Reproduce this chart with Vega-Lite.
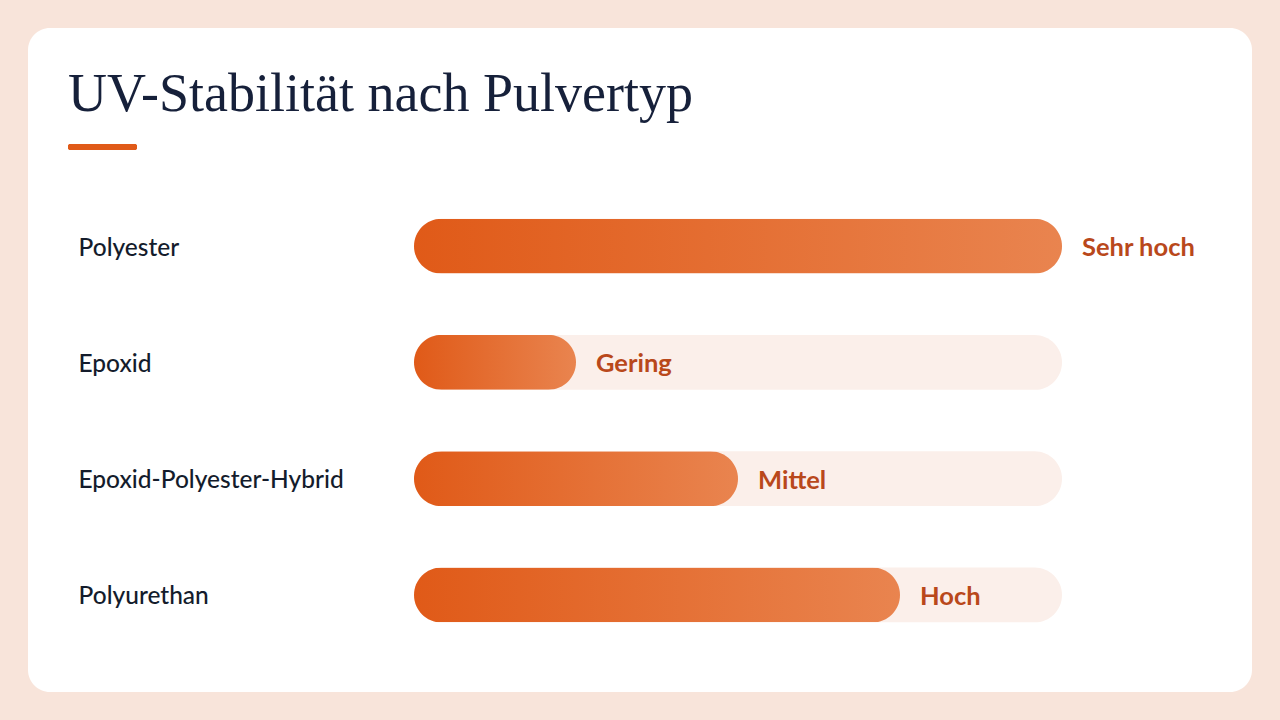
{
  "$schema": "https://vega.github.io/schema/vega-lite/v6.json",
  "width": 1224,
  "height": 664,
  "autosize": {"type": "none"},
  "padding": {"left": 28, "top": 28, "right": 28, "bottom": 28},
  "background": "#f8e4da",
  "title": {
    "text": "UV-Stabilität nach Pulvertyp",
    "anchor": "start",
    "frame": "group",
    "orient": "top",
    "offset": 0,
    "dx": 40,
    "dy": 137,
    "baseline": "alphabetic",
    "font": "Liberation Serif",
    "fontSize": 54,
    "fontWeight": "normal",
    "color": "#16203a"
  },
  "config": {
    "view": {"fill": "white", "stroke": null, "cornerRadius": 22}
  },
  "data": {
    "values": [
      {"typ": "Polyester", "stufe": 4, "bewertung": "Sehr hoch"},
      {"typ": "Epoxid", "stufe": 1, "bewertung": "Gering"},
      {"typ": "Epoxid-Polyester-Hybrid", "stufe": 2, "bewertung": "Mittel"},
      {"typ": "Polyurethan", "stufe": 3, "bewertung": "Hoch"}
    ]
  },
  "encoding": {
    "y": {
      "field": "typ",
      "type": "nominal",
      "sort": null,
      "scale": {"range": [160, 625], "paddingInner": 0.527, "paddingOuter": 0.2635},
      "axis": {
        "title": null,
        "domain": false,
        "ticks": false,
        "grid": false,
        "offset": -50,
        "labelPadding": 0,
        "labelAlign": "left",
        "labelFont": "Lato",
        "labelFontSize": 24.5,
        "labelFontWeight": 500,
        "labelColor": "#141c2c",
        "labelLimit": 400,
        "labelOffset": 2.5
      }
    }
  },
  "layer": [
    {
      "mark": {"type": "bar", "cornerRadius": 27.5, "color": "#fbefea"},
      "encoding": {
        "x": {"datum": 4, "type": "quantitative", "scale": {"domain": [0, 4], "range": [386, 1034]}, "axis": null}
      }
    },
    {
      "mark": {
        "type": "bar",
        "cornerRadius": 27.5,
        "color": {
          "gradient": "linear",
          "x1": 0, "x2": 1, "y1": 0, "y2": 0,
          "stops": [
            {"offset": 0, "color": "#e05a18"},
            {"offset": 1, "color": "#e9844f"}
          ]
        }
      },
      "encoding": {
        "x": {"field": "stufe", "type": "quantitative", "axis": null}
      }
    },
    {
      "mark": {
        "type": "text",
        "align": "left",
        "baseline": "middle",
        "dx": 20,
        "dy": 2,
        "font": "Lato",
        "fontSize": 25.5,
        "fontWeight": "bold",
        "color": "#b9481b"
      },
      "encoding": {
        "x": {"field": "stufe", "type": "quantitative"},
        "text": {"field": "bewertung"}
      }
    },
    {
      "mark": {"type": "rule", "color": "#e05a18", "strokeWidth": 6, "strokeCap": "round"},
      "encoding": {
        "x": {"value": 43},
        "x2": {"value": 106},
        "y": {"value": 119}
      }
    }
  ]
}
